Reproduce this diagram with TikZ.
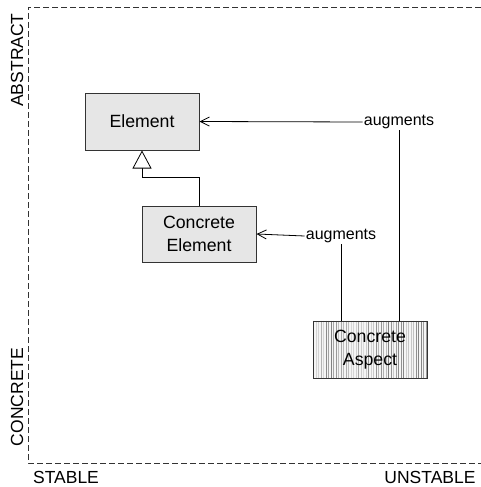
\documentclass[tikz,border=0pt]{standalone}
\usepackage{fontspec}
\setmainfont{Liberation Sans}
\usetikzlibrary{arrows.meta,calc}
\definecolor{boxfill}{HTML}{E6E6E6}
\definecolor{edge}{HTML}{333333}
\begin{document}
\begin{tikzpicture}[x=1pt,y=-1pt,
  every node/.style={font=\fontsize{16}{21}\selectfont, text=black},
  classbox/.style={draw=edge, line width=1pt, fill=boxfill, minimum width=114pt,
    minimum height=57pt, align=center, inner sep=0pt,
    font=\fontsize{17.7}{23}\selectfont},
  aspectbox/.style={draw=edge, line width=1pt, minimum width=114pt,
    minimum height=57pt, align=center, inner sep=0pt,
    font=\fontsize{17.7}{23}\selectfont},
  axis/.style={font=\fontsize{17.5}{20}\selectfont},
  link/.style={line width=0.8pt, draw=black},
  frame/.style={dashed, dash pattern=on 6pt off 3pt, draw=edge, line width=0.8pt}]
\useasboundingbox (0,0) rectangle (481,487);

% dashed quadrant frame
\coordinate (tl) at (28,7);
\coordinate (bl) at (28,463);
\coordinate (tr) at (481,7);
\coordinate (br) at (481,463);
\draw[frame] (tr) -- (tl) -- (bl) -- (br);

% axis labels
\node[axis, rotate=90] (abstract) at (17,60) {ABSTRACT};
\node[axis, rotate=90] (concrete) at (17,397) {CONCRETE};
\node[axis] (stable) at (66,477) {STABLE};
\node[axis] (unstable) at (430,477) {UNSTABLE};

% classes
\node[classbox] (element) at (142,121.5) {Element};
\node[classbox, minimum height=56pt] (celem) at (199,234) {Concrete\\Element};

% aspect with vertical hatching
\node[aspectbox] (aspect) at (370,349.5) {};
\begin{scope}
  \clip (aspect.south west) rectangle (aspect.north east);
  \fill[white!96!black] (aspect.south west) rectangle (aspect.north east);
  \pgfmathsetseed{7}
  \foreach \i in {0,...,46} {
    \pgfmathsetmacro{\g}{12+38*rnd}
    \draw[black!\g!white, line width=0.6pt]
      ($(aspect.north west)+(\i*2.5+1,0)$) -- ++(0,57);
  }
\end{scope}
\node[aspectbox] (aspectlabel) at (370,349.5) {Concrete\\Aspect};

% augment labels
\node[inner sep=1pt] (aug1) at (399,122) {augments};
\node[inner sep=1pt] (aug2) at (341,236) {augments};

% connectors
\draw[link, -{Straight Barb[length=9pt,width=9pt]}] (aug1.west) -- (element.east);
\draw[link, -{Straight Barb[length=9pt,width=9pt]}] (aug2.west) -- (celem.east);
\draw[link] (aug1.south) -- (aug1.south |- aspect.north);
\draw[link] (aug2.south) -- (aug2.south |- aspect.north);
\draw[link, -{Triangle[open, fill=white, length=18pt, width=19pt]}]
  (celem.north) -- ++(0,-28) -| (element.south);
\end{tikzpicture}
\end{document}
